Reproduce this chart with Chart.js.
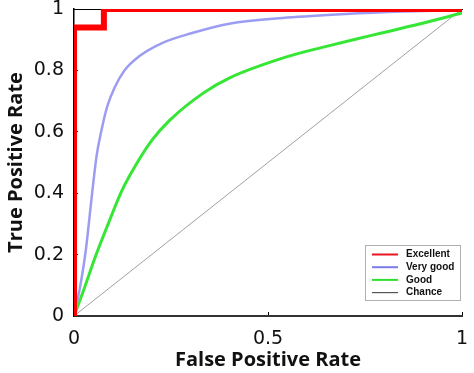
<!DOCTYPE html>
<html>
<head>
<meta charset="utf-8">
<script src="https://cdn.jsdelivr.net/npm/chart.js@4/dist/chart.umd.min.js"></script>
<style>
  html, body { margin: 0; padding: 0; background: #fff; }
  #wrap { width: 474px; height: 373px; }
</style>
</head>
<body>
<div id="wrap"><canvas id="roc"></canvas></div>
<script>
// ROC curves, values
const fprExcellent = [0, 0, 0.077, 0.077, 1];
const tprExcellent = [0, 0.94, 0.94, 1, 1];

const fprVeryGood = [0, 0.015, 0.03, 0.045, 0.058, 0.07, 0.085, 0.105, 0.13, 0.167, 0.227, 0.30, 0.40, 0.55, 0.70, 0.85, 1];
const tprVeryGood = [0, 0.09, 0.21, 0.38, 0.52, 0.60, 0.68, 0.745, 0.80, 0.845, 0.889, 0.92, 0.952, 0.972, 0.984, 0.992, 0.997];

const fprGood = [0, 0.025, 0.055, 0.089, 0.124, 0.167, 0.201, 0.247, 0.333, 0.40, 0.548, 0.64, 0.72, 0.79, 0.89, 1];
const tprGood = [0, 0.085, 0.193, 0.303, 0.41, 0.508, 0.573, 0.638, 0.726, 0.775, 0.844, 0.875, 0.90, 0.921, 0.951, 0.987];

const fprChance = [0, 1];
const tprChance = [0, 1];

const seriesNames = ['Excellent', 'Very good', 'Good', 'Chance'];
const xTicks = [0, 0.5, 1];
const yTicks = [0, 0.2, 0.4, 0.6, 0.8, 1];

const pts = (xs, ys) => xs.map((x, i) => ({ x: x, y: ys[i] }));

// legend drawn inside the plot, bottom right (like the original)
const boxLegend = {
  id: 'boxLegend',
  afterDraw(chart) {
    const ctx = chart.ctx;
    const area = chart.chartArea;
    const sets = chart.data.datasets;
    const w = 95, h = 55;
    const left = area.right - w - 2;
    const top = area.bottom - h - 16;
    ctx.save();
    ctx.fillStyle = '#fff';
    ctx.fillRect(left, top, w, h);
    ctx.strokeStyle = '#b0b0b0';
    ctx.lineWidth = 1;
    ctx.strokeRect(left + 0.5, top + 0.5, w, h);
    ctx.font = 'bold 10px "Liberation Sans", Arial, sans-serif';
    ctx.textBaseline = 'middle';
    sets.forEach((ds, i) => {
      const y = top + 9.5 + i * 12.7;
      ctx.strokeStyle = ds.legendColor;
      ctx.lineWidth = i === 3 ? 1.2 : 2;
      ctx.beginPath();
      ctx.moveTo(left + 7, y);
      ctx.lineTo(left + 33, y);
      ctx.stroke();
      ctx.fillStyle = '#111';
      ctx.fillText(ds.label, left + 41, y);
    });
    ctx.restore();
  }
};

const noPad = (s) => { s.paddingTop = 0; s.paddingBottom = 0; s.paddingLeft = 0; s.paddingRight = 0; };

new Chart(document.getElementById('roc'), {
  type: 'scatter',
  data: {
    datasets: [
      {
        label: seriesNames[0],
        data: pts(fprExcellent, tprExcellent),
        showLine: true, borderColor: '#ff0000', borderWidth: 6,
        legendColor: '#e8141e', tension: 0, pointRadius: 0, borderJoinStyle: 'miter'
      },
      {
        label: seriesNames[1],
        data: pts(fprVeryGood, tprVeryGood),
        showLine: true, borderColor: '#9c9cf2', borderWidth: 2.5,
        legendColor: '#7b7bee', cubicInterpolationMode: 'monotone', pointRadius: 0
      },
      {
        label: seriesNames[2],
        data: pts(fprGood, tprGood),
        showLine: true, borderColor: '#35e635', borderWidth: 3,
        legendColor: '#2ee02e', cubicInterpolationMode: 'monotone', pointRadius: 0
      },
      {
        label: seriesNames[3],
        data: pts(fprChance, tprChance),
        showLine: true, borderColor: '#a0a0a0', borderWidth: 1,
        legendColor: '#555', tension: 0, pointRadius: 0
      }
    ]
  },
  options: {
    responsive: true,
    maintainAspectRatio: false,
    animation: false,
    layout: { padding: { top: 9, right: 12, left: 0, bottom: 0 } },
    plugins: { legend: { display: false }, tooltip: { enabled: false } },
    scales: {
      x: {
        type: 'linear', position: 'bottom', min: 0, max: 1,
        afterBuildTicks: (s) => { s.ticks = xTicks.map(v => ({ value: v })); },
        afterFit: (s) => { s.height = 57; noPad(s); },
        grid: { drawOnChartArea: false, tickLength: -4, color: '#000', tickWidth: 1 },
        border: { color: '#333', width: 2 },
        ticks: {
          color: '#111', padding: 16, maxRotation: 0,
          callback: (v) => String(v),
          font: { family: '"DejaVu Sans"', size: 19 }
        },
        title: {
          display: true, text: 'False Positive Rate', color: '#111',
          font: { family: '"Open Sans"', size: 20, weight: 'bold' },
          padding: { top: 0, bottom: 1 }
        }
      },
      xTop: {
        type: 'linear', position: 'top', min: 0, max: 1,
        afterFit: (s) => { s.height = 0; noPad(s); },
        grid: { display: false },
        border: { color: '#000', width: 1 },
        ticks: { display: false }
      },
      y: {
        type: 'linear', min: 0, max: 1,
        afterBuildTicks: (s) => { s.ticks = yTicks.map(v => ({ value: v })); },
        afterFit: (s) => { s.width = 74; noPad(s); },
        grid: { drawOnChartArea: false, tickLength: -4, color: '#000', tickWidth: 1 },
        border: { color: '#000', width: 1.5 },
        ticks: {
          color: '#111', padding: 14,
          callback: (v) => String(v),
          font: { family: '"DejaVu Sans"', size: 19 }
        },
        title: {
          display: true, text: 'True Positive Rate', color: '#111',
          font: { family: '"Open Sans"', size: 20, weight: 'bold' },
          padding: { top: 4, bottom: 0 }
        }
      }
    }
  },
  plugins: [boxLegend]
});
</script>
</body>
</html>
